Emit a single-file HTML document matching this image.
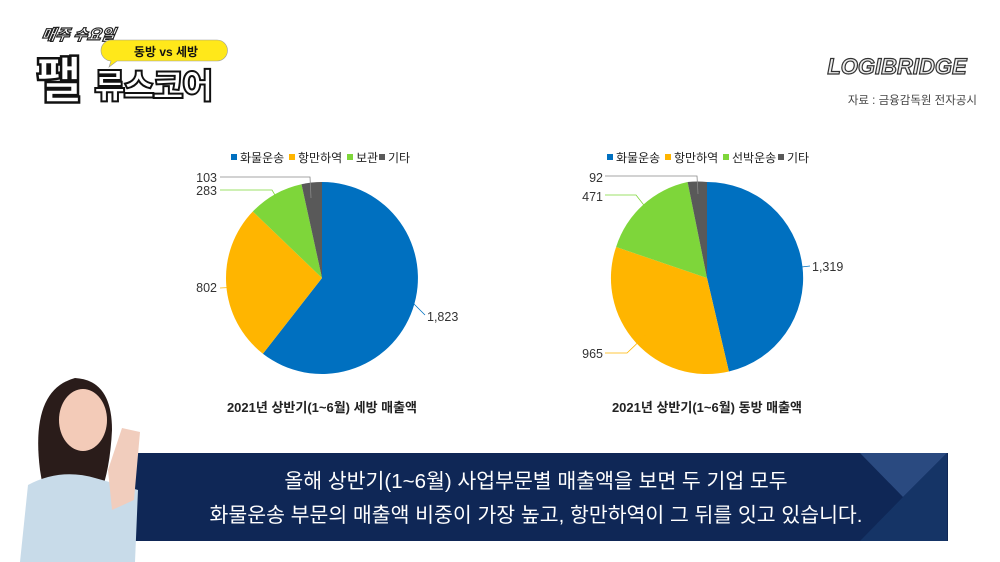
<!DOCTYPE html>
<html><head><meta charset="utf-8"><style>
body{margin:0;width:1000px;height:562px;overflow:hidden;background:#fff;font-family:"Liberation Sans","Noto Sans CJK KR",sans-serif;position:relative}
.abs{position:absolute}
</style></head><body>
<svg class="abs" style="left:0;top:0" width="1000" height="562" font-family="Liberation Sans, Noto Sans CJK KR, sans-serif">
<!-- logo -->
<text x="48" y="40" font-size="15" font-weight="900" fill="#fff" stroke="#222" stroke-width="1.2" transform="skewX(-10)" font-style="italic">매주 수요일</text>
<path d="M112 40 h105 a10 10 0 0 1 0 21 h-100 l-8 6 l2 -6 a10 10 0 0 1 1 -21z" fill="#ffe81a" stroke="#999" stroke-width="0.6"/>
<text x="166" y="56" font-size="12" font-weight="700" text-anchor="middle" fill="#111">동방 vs 세방</text>
<text x="36" y="98" font-size="50" font-weight="900" fill="#fff" stroke="#111" stroke-width="2.5" letter-spacing="-3">팰</text>
<text x="94" y="98" font-size="34" font-weight="900" fill="#fff" stroke="#111" stroke-width="2" letter-spacing="-2">류스코어</text>
<text x="897" y="74" font-size="22" font-weight="900" font-style="italic" text-anchor="middle" fill="#eee" stroke="#333" stroke-width="1.2">LOGIBRIDGE</text>
<text x="977" y="104" font-size="11.5" text-anchor="end" fill="#444">자료 : 금융감독원 전자공시</text>

<!-- pie 1 -->
<g font-size="12" fill="#222">
<rect x="231" y="154" width="6" height="6" fill="#0070c0"/><text x="240" y="162">화물운송</text>
<rect x="289" y="154" width="6" height="6" fill="#ffb500"/><text x="298" y="162">항만하역</text>
<rect x="347" y="154" width="6" height="6" fill="#7ed63a"/><text x="356" y="162">보관</text>
<rect x="379" y="154" width="6" height="6" fill="#595959"/><text x="388" y="162">기타</text>
</g>
<path d="M322 278 L322 182 A96 96 0 1 1 262.9 353.7Z" fill="#0070c0"/>
<path d="M322 278 L262.9 353.7 A96 96 0 0 1 252.8 211.5Z" fill="#ffb500"/>
<path d="M322 278 L252.8 211.5 A96 96 0 0 1 301.5 184.2Z" fill="#7ed63a"/>
<path d="M322 278 L301.5 184.2 A96 96 0 0 1 322 182Z" fill="#595959"/>
<g fill="none" stroke-width="0.8">
<polyline points="410,300 425,315" stroke="#0070c0"/>
<polyline points="240,287 220,288" stroke="#ffb500"/>
<polyline points="282,207 272,190 220,190" stroke="#7ed63a"/>
<polyline points="311,198 310,177 220,177" stroke="#888"/>
</g>
<g font-size="12.5" fill="#333">
<text x="427" y="321">1,823</text>
<text x="217" y="292" text-anchor="end">802</text>
<text x="217" y="195" text-anchor="end">283</text>
<text x="217" y="182" text-anchor="end">103</text>
</g>
<text x="322" y="412" font-size="13" font-weight="700" text-anchor="middle" fill="#222">2021년 상반기(1~6월) 세방 매출액</text>

<!-- pie 2 -->
<g font-size="12" fill="#222">
<rect x="607" y="154" width="6" height="6" fill="#0070c0"/><text x="616" y="162">화물운송</text>
<rect x="665" y="154" width="6" height="6" fill="#ffb500"/><text x="674" y="162">항만하역</text>
<rect x="723" y="154" width="6" height="6" fill="#7ed63a"/><text x="732" y="162">선박운송</text>
<rect x="778" y="154" width="6" height="6" fill="#595959"/><text x="787" y="162">기타</text>
</g>
<path d="M707 278 L707 182 A96 96 0 0 1 728.9 371.5Z" fill="#0070c0"/>
<path d="M707 278 L728.9 371.5 A96 96 0 0 1 616.1 247Z" fill="#ffb500"/>
<path d="M707 278 L616.1 247 A96 96 0 0 1 687.6 182Z" fill="#7ed63a"/>
<path d="M707 278 L687.6 182 A96 96 0 0 1 707 182Z" fill="#595959"/>
<g fill="none" stroke-width="0.8">
<polyline points="793,268 810,266" stroke="#0070c0"/>
<polyline points="649,332 627,353 605,353" stroke="#ffb500"/>
<polyline points="654,218 636,195 605,195" stroke="#7ed63a"/>
<polyline points="698,194 697,176 605,176" stroke="#888"/>
</g>
<g font-size="12.5" fill="#333">
<text x="812" y="271">1,319</text>
<text x="603" y="358" text-anchor="end">965</text>
<text x="603" y="201" text-anchor="end">471</text>
<text x="603" y="182" text-anchor="end">92</text>
</g>
<text x="707" y="412" font-size="13" font-weight="700" text-anchor="middle" fill="#222">2021년 상반기(1~6월) 동방 매출액</text>

<!-- banner -->
<rect x="133" y="453" width="815" height="88" fill="#0f2756"/>
<polygon points="860,453 947,453 903,497" fill="#2a4a80"/>
<polygon points="947,453 947,541 860,541 903,497" fill="#153466"/>
<text x="536" y="488" font-size="20.5" text-anchor="middle" fill="#fff">올해 상반기(1~6월) 사업부문별 매출액을 보면 두 기업 모두</text>
<text x="536" y="522" font-size="20.5" text-anchor="middle" fill="#fff">화물운송 부문의 매출액 비중이 가장 높고, 항만하역이 그 뒤를 잇고 있습니다.</text>

<!-- person -->
<path d="M40 470 Q30 390 75 378 Q112 380 112 430 Q110 470 100 495 L45 500Z" fill="#2a1c1a"/>
<ellipse cx="83" cy="420" rx="24" ry="31" fill="#f3cbb8"/>
<path d="M20 562 L28 485 Q60 468 95 478 L138 490 L135 562Z" fill="#c8dbe9"/>
<path d="M108 470 L122 428 L140 432 L134 500 L112 510Z" fill="#f1cdbd"/>
</svg>
</body></html>
